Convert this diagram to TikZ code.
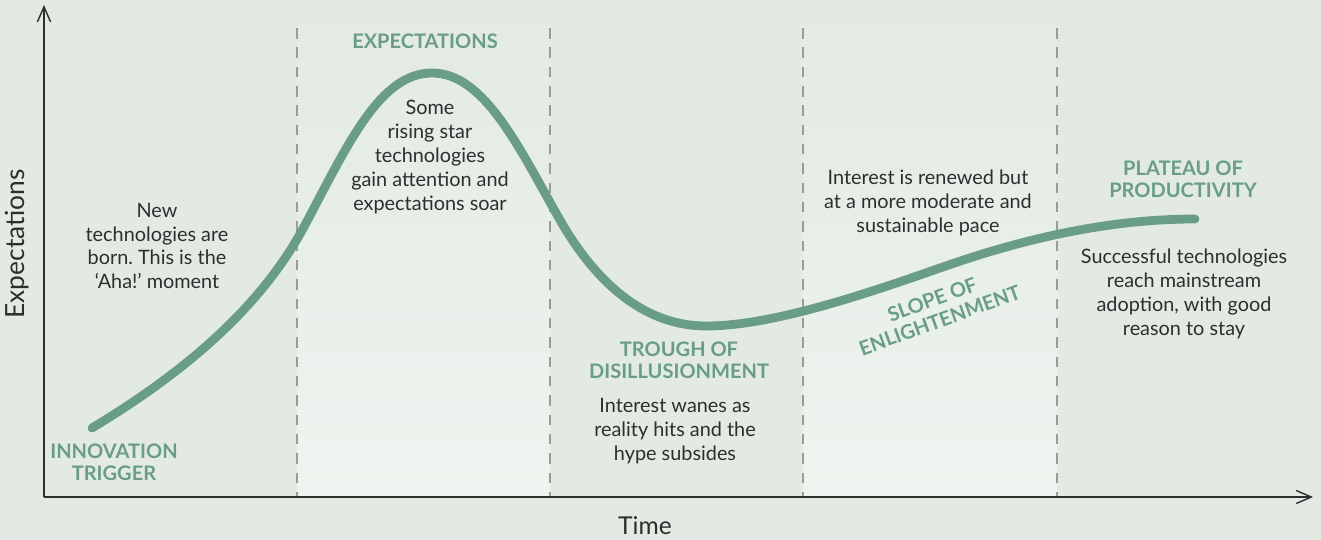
\documentclass[tikz,border=0pt]{standalone}
\usepackage{fontspec}
\setmainfont{Lato}
\usepackage{tikz}
\usetikzlibrary{arrows.meta}
\frenchspacing
\definecolor{bgc}{HTML}{E2EAE3}
\definecolor{bandc}{HTML}{EEF4EF}
\definecolor{hype}{HTML}{6A9D85}
\definecolor{txt}{HTML}{2E2E2E}
\definecolor{divc}{HTML}{9B9B98}

\begin{document}
\begin{tikzpicture}[x=0.02cm, y=-0.02cm,
  note/.style={align=center, text=txt, font=\fontsize{11.3}{13.6}\selectfont},
  phase/.style={align=center, text=hype, font=\bfseries\fontsize{11.4}{12.5}\selectfont},
  band/.style={top color=bgc, bottom color=bandc, draw=none},
  divider/.style={draw=divc, line width=1.1pt, dash pattern=on 6pt off 5pt},
  axis/.style={draw=txt, line width=0.8pt, -{Straight Barb[length=3mm, width=2.6mm]}},
  curve/.style={draw=hype, line width=5pt, line cap=round}]
% canvas and the two light bands
\fill[bgc] (0,0) rectangle (1321,540);
\useasboundingbox (0,0) rectangle (1321,540);
\shade[band] (297,0) rectangle (550,497);
\shade[band] (803,0) rectangle (1057,497);
\foreach \x in {297,550,803,1057}
  \draw[divider] (\x,28) -- (\x,497);
% axes
\coordinate (o) at (44,497);
\coordinate (ytop) at (44,5);
\coordinate (xend) at (1313,497);
\draw[axis] (o) -- (ytop);
\draw[axis] (o) -- (xend);
\node[note, font=\fontsize{15}{17}\selectfont, rotate=90] (ylab) at (17,244) {Expectations};
\node[note, font=\fontsize{14}{16}\selectfont] (xlab) at (645,526) {Time};
% hype curve
\draw[curve] (92,428) .. controls (180,375) and (260,310) .. (305,225)
  .. controls (348,144) and (380,73) .. (432,73)
  .. controls (485,73) and (520,150) .. (560,220)
  .. controls (600,290) and (650,326) .. (706,326)
  .. controls (770,326) and (860,296) .. (940,268)
  .. controls (1036,234) and (1120,219) .. (1195,219);
% phase names
\node[phase] (trig) at (114,462) {INNOVATION\\TRIGGER};
\node[phase] (peak) at (425,41) {EXPECTATIONS};
\node[phase] (trough) at (679,360) {TROUGH OF\\DISILLUSIONMENT};
\node[phase, rotate=20] (slope) at (936,310) {SLOPE OF\\ENLIGHTENMENT};
\node[phase] (plateau) at (1183,179) {PLATEAU OF\\PRODUCTIVITY};
% notes
\node[note] (n1) at (157,246) {New\\technologies are\\born. This is the\\`Aha!' moment};
\node[note] (n2) at (430,157) {Some\\rising star\\technologies\\gain attention and\\expectations soar};
\node[note] (n3) at (675,431) {Interest wanes as\\reality hits and the\\hype subsides};
\node[note] (n4) at (928,203) {Interest is renewed but\\at a more moderate and\\sustainable pace};
\node[note] (n5) at (1184,294) {Successful technologies\\reach mainstream\\adoption, with good\\reason to stay};
\end{tikzpicture}
\end{document}
